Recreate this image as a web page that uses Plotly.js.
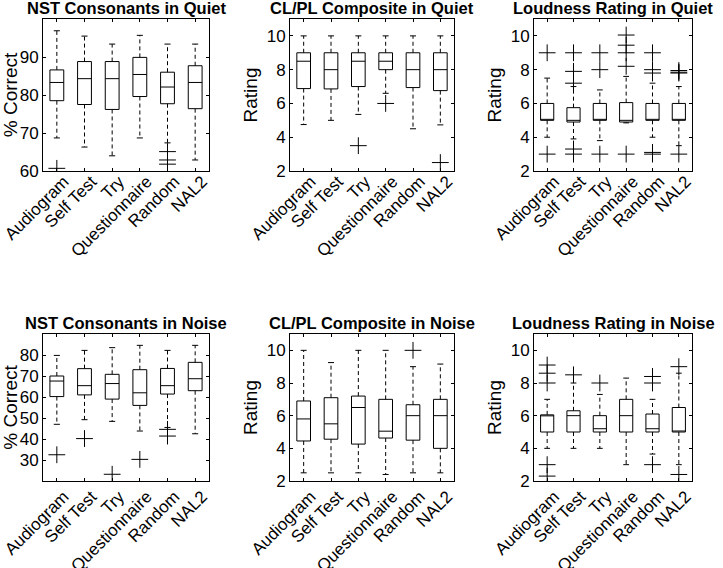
<!DOCTYPE html>
<html>
<head>
<meta charset="utf-8">
<script src="https://cdn.plot.ly/plotly-3.0.1.min.js"></script>
<style>html,body{margin:0;padding:0;background:#fff;}#chart{width:723px;height:568px;}</style>
</head>
<body>
<div id="chart"></div>
<script>
// ---- categories ----
const categories = ['Audiogram', 'Self Test', 'Try', 'Questionnaire', 'Random', 'NAL2'];

// ---- panel titles / axis titles ----
const panelTitles = ['NST Consonants in Quiet', 'CL/PL Composite in Quiet', 'Loudness Rating in Quiet',
                     'NST Consonants in Noise', 'CL/PL Composite in Noise', 'Loudness Rating in Noise'];
const yTitles = ['% Correct', 'Rating', 'Rating', '% Correct', 'Rating', 'Rating'];

// ---- NST Consonants in Quiet ----
const nstQuietHi  = [96.9, 95.5, 93.4, 95.7, 93.4, 93.4];
const nstQuietQ3  = [86.6, 88.8, 88.8, 89.9, 86.0, 87.7];
const nstQuietMed = [83.3, 84.3, 84.3, 85.4, 82.1, 83.3];
const nstQuietQ1  = [78.5, 77.5, 76.2, 79.6, 77.7, 76.4];
const nstQuietLo  = [68.7, 66.3, 64.0, 68.7, 67.4, 62.9];
const nstQuietOutCat = ['Audiogram', 'Random', 'Random', 'Random'];
const nstQuietOutVal = [60.7, 65.1, 62.9, 61.8];

// ---- CL/PL Composite in Quiet ----
const clplQuietHi  = [10, 10, 10, 10, 10, 10];
const clplQuietQ3  = [9, 9, 9, 9, 9, 9];
const clplQuietMed = [8.5, 8, 8.5, 8.5, 8, 8];
const clplQuietQ1  = [6.88, 6.86, 7.0, 8.0, 6.94, 6.76];
const clplQuietLo  = [4.75, 5.0, 5.35, 6.6, 4.5, 4.73];
const clplQuietOutCat = ['Try', 'Questionnaire', 'NAL2'];
const clplQuietOutVal = [3.5, 6.0, 2.5];

// ---- Loudness Rating in Quiet ----
const loudQuietHi  = [7.5, 7.0, 6.8, 7.6, 7.2, 7.0];
const loudQuietQ3  = [6, 5.75, 6, 6.05, 6, 6];
const loudQuietMed = [5, 5, 5, 5, 5, 5];
const loudQuietQ1  = [5, 4.9, 5, 4.9, 5, 5];
const loudQuietLo  = [4.0, 3.9, 3.8, 4.85, 4.0, 3.5];
const loudQuietOutCat = ['Audiogram', 'Audiogram',
  'Self Test', 'Self Test', 'Self Test', 'Self Test', 'Self Test',
  'Try', 'Try', 'Try',
  'Questionnaire', 'Questionnaire', 'Questionnaire', 'Questionnaire', 'Questionnaire',
  'Random', 'Random', 'Random', 'Random', 'Random',
  'NAL2', 'NAL2', 'NAL2', 'NAL2'];
const loudQuietOutVal = [9, 3,
  9, 7.9, 7.2, 3.3, 3.0,
  9, 8, 3,
  10.05, 9.45, 9.0, 8.2, 3,
  9, 8.0, 7.8, 3.1, 3.0,
  7.95, 7.85, 7.8, 3];

// ---- NST Consonants in Noise ----
const nstNoiseHi  = [79.8, 82.2, 83.5, 84.6, 82.2, 84.6];
const nstNoiseQ3  = [70, 73.5, 70.8, 73, 73.6, 76.5];
const nstNoiseMed = [67.6, 65.4, 66.4, 62, 65.4, 68.7];
const nstNoiseQ1  = [60.2, 61, 59, 56, 61.4, 63];
const nstNoiseLo  = [47, 49.2, 48.4, 43.8, 45.5, 42.5];
const nstNoiseOutCat = ['Audiogram', 'Self Test', 'Try', 'Questionnaire', 'Random', 'Random'];
const nstNoiseOutVal = [32.5, 40.2, 23.2, 30.3, 44.6, 41.4];

// ---- CL/PL Composite in Noise ----
const clplNoiseHi  = [10, 9.25, 10, 10, 9.0, 9.16];
const clplNoiseQ3  = [6.9, 7.1, 7.2, 7.0, 6.67, 7.0];
const clplNoiseMed = [5.8, 5.5, 6.5, 5.05, 6.0, 6.0];
const clplNoiseQ1  = [4.45, 4.56, 4.26, 4.63, 4.5, 4.0];
const clplNoiseLo  = [2.5, 2.5, 2.5, 2.4, 2.5, 2.5];
const clplNoiseOutCat = ['Random'];
const clplNoiseOutVal = [10];

// ---- Loudness Rating in Noise ----
const loudNoiseHi  = [7, 8, 7.3, 8.3, 7, 8.6];
const loudNoiseQ3  = [6.05, 6.3, 6.0, 7.0, 6.1, 6.5];
const loudNoiseMed = [6, 6, 5.2, 6, 5.2, 5];
const loudNoiseQ1  = [5, 5, 5, 5, 5, 5];
const loudNoiseLo  = [4, 4, 4, 3, 3.65, 3];
const loudNoiseOutCat = ['Audiogram', 'Audiogram', 'Audiogram', 'Audiogram', 'Audiogram',
  'Self Test', 'Try', 'Random', 'Random', 'Random', 'NAL2', 'NAL2'];
const loudNoiseOutVal = [9.1, 8.6, 8.0, 3.0, 2.3,
  8.5, 8.0, 8.4, 8.0, 3.0, 9.0, 2.4];

// ---- axis ranges / ticks ----
const yRanges = [[60, 100], [2, 11], [2, 11], [20, 90], [2, 11], [2, 11]];
const yTicks = [[60, 70, 80, 90], [2, 4, 6, 8, 10], [2, 4, 6, 8, 10],
                [30, 40, 50, 60, 70, 80], [2, 4, 6, 8, 10], [2, 4, 6, 8, 10]];

const panels = [
  [nstQuietHi, nstQuietQ3, nstQuietMed, nstQuietQ1, nstQuietLo, nstQuietOutCat, nstQuietOutVal],
  [clplQuietHi, clplQuietQ3, clplQuietMed, clplQuietQ1, clplQuietLo, clplQuietOutCat, clplQuietOutVal],
  [loudQuietHi, loudQuietQ3, loudQuietMed, loudQuietQ1, loudQuietLo, loudQuietOutCat, loudQuietOutVal],
  [nstNoiseHi, nstNoiseQ3, nstNoiseMed, nstNoiseQ1, nstNoiseLo, nstNoiseOutCat, nstNoiseOutVal],
  [clplNoiseHi, clplNoiseQ3, clplNoiseMed, clplNoiseQ1, clplNoiseLo, clplNoiseOutCat, clplNoiseOutVal],
  [loudNoiseHi, loudNoiseQ3, loudNoiseMed, loudNoiseQ1, loudNoiseLo, loudNoiseOutCat, loudNoiseOutVal]
];

// ---- layout geometry ----
const W = 723, H = 568;
const colPx = [[43, 209], [290, 454], [534, 692]];
const rowPx = [[19, 171], [334, 481]];
const rowLabelStandoff = [-7, -2];
const FONT = 'Liberation Sans, Arial, Helvetica, sans-serif';

const pos = categories.map((c, i) => i + 1);
const capHalf = 0.11;

const traces = [];
const layout = {
  width: W, height: H,
  margin: {l: 0, r: 0, t: 0, b: 0},
  paper_bgcolor: '#fff', plot_bgcolor: '#fff',
  showlegend: false,
  font: {family: FONT, color: '#000', size: 15},
  annotations: []
};

panels.forEach((p, k) => {
  const [hi, q3, med, q1, lo, outCat, outVal] = p;
  const sfx = k === 0 ? '' : String(k + 1);
  const xa = 'x' + sfx, ya = 'y' + sfx;
  const col = k % 3, row = Math.floor(k / 3);

  // boxes (quartiles and median)
  traces.push({
    type: 'box', x: pos, q1: q1, median: med, q3: q3,
    lowerfence: q1, upperfence: q3,
    width: 0.5, whiskerwidth: 0, boxpoints: false,
    fillcolor: 'rgba(0,0,0,0)', line: {color: '#000', width: 1},
    xaxis: xa, yaxis: ya, hoverinfo: 'skip', showlegend: false
  });

  // dashed whiskers
  const wx = [], wy = [];
  pos.forEach((x, i) => {
    wx.push(x, x, null, x, x, null);
    wy.push(q3[i], hi[i], null, q1[i], lo[i], null);
  });
  traces.push({
    type: 'scatter', mode: 'lines', x: wx, y: wy,
    line: {color: '#000', width: 1, dash: '4px,3px'},
    xaxis: xa, yaxis: ya, hoverinfo: 'skip', showlegend: false
  });

  // whisker caps
  const cx = [], cy = [];
  pos.forEach((x, i) => {
    cx.push(x - capHalf, x + capHalf, null, x - capHalf, x + capHalf, null);
    cy.push(hi[i], hi[i], null, lo[i], lo[i], null);
  });
  traces.push({
    type: 'scatter', mode: 'lines', x: cx, y: cy,
    line: {color: '#000', width: 1},
    xaxis: xa, yaxis: ya, hoverinfo: 'skip', showlegend: false
  });

  // outliers
  traces.push({
    type: 'scatter', mode: 'markers',
    x: outCat.map(c => categories.indexOf(c) + 1), y: outVal,
    marker: {symbol: 'cross-thin', size: 12, line: {color: '#000', width: 1}, color: '#000'},
    xaxis: xa, yaxis: ya, hoverinfo: 'skip', showlegend: false
  });

  const xd = [colPx[col][0] / W, colPx[col][1] / W];
  const yd = [1 - rowPx[row][1] / H, 1 - rowPx[row][0] / H];

  layout['xaxis' + sfx] = {
    domain: xd, anchor: ya, range: [0.5, 6.5],
    tickvals: pos, ticktext: categories, tickangle: -45,
    ticks: 'inside', ticklen: 3, tickcolor: '#000', tickwidth: 1,
    showline: true, linecolor: '#000', linewidth: 1, mirror: 'ticks',
    showgrid: false, zeroline: false, fixedrange: true,
    ticklabeloverflow: 'allow', ticklabelstandoff: rowLabelStandoff[row], ticklabelshift: 7,
    tickfont: {family: FONT, size: 17, color: '#000'}
  };
  layout['yaxis' + sfx] = {
    domain: yd, anchor: xa, range: yRanges[k],
    tickvals: yTicks[k], ticks: 'inside', ticklen: 3, tickcolor: '#000', tickwidth: 1,
    showline: true, linecolor: '#000', linewidth: 1, mirror: 'ticks',
    showgrid: false, zeroline: false, fixedrange: true,
    tickfont: {family: FONT, size: 17, color: '#000'},
    title: {text: yTitles[k], font: {family: FONT, size: 19, color: '#000'}, standoff: 4}
  };

  layout.annotations.push({
    text: panelTitles[k], xref: 'paper', yref: 'paper',
    x: (xd[0] + xd[1]) / 2, y: yd[1], xanchor: 'center', yanchor: 'bottom',
    showarrow: false, font: {family: FONT, size: 16.5, weight: 'bold', color: '#000'}
  });
});

Plotly.newPlot('chart', traces, layout, {displayModeBar: false, staticPlot: true});
</script>
</body>
</html>
